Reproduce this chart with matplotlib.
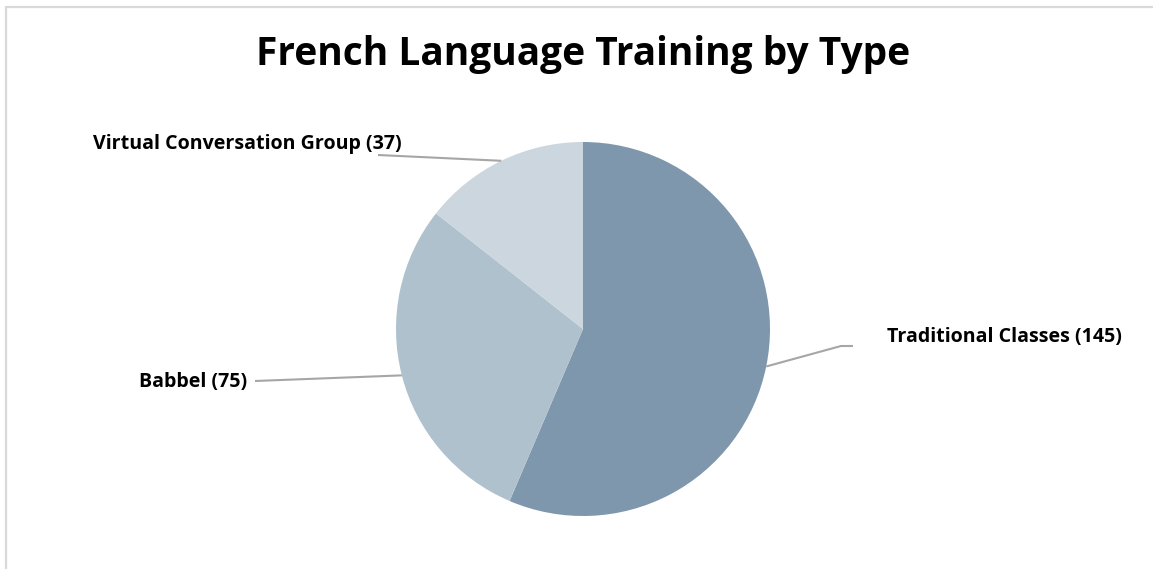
#!/usr/bin/env python3
import numpy as np
import matplotlib
matplotlib.use('Agg')
import matplotlib.pyplot as plt

## data
types   = ['Traditional Classes', 'Babbel', 'Virtual Conversation Group']
counts  = [145, 75, 37]
colors  = ['#7F97AD', '#B0C1CE', '#CBD6DF']
title   = 'French Language Training by Type'

plt.rcParams['font.family'] = ['Open Sans', 'DejaVu Sans']

W, H = 1153, 569
fig = plt.figure(figsize=(W/100, H/100), dpi=100)
ax = fig.add_axes([0, 0, 1, 1])

## pie in pixel-like data coords (y up)
cx, cy, r = 583, H - 329, 187
wedges, _ = ax.pie(counts, colors=colors, startangle=90, counterclock=False,
                   center=(cx, cy), radius=r, frame=True,
                   wedgeprops=dict(linewidth=0))
ax.set_xlim(0, W)
ax.set_ylim(0, H)
ax.set_aspect('auto')
ax.axis('off')

## frame border (top and left only visible)
ax.plot([6, 6, W], [0, H - 6.5, H - 6.5], color='#D9D9D9', lw=1.6,
        solid_joinstyle='miter')

ax.text(cx, H - 54, title, ha='center', va='center',
        fontsize=28, fontweight='bold', color='black')

## labels with leader lines from wedge mid-angles
# (elbow point, line end, text anchor, ha)
layout = {
    'Traditional Classes':        ((841, H - 346), (853, H - 346), (887, H - 337), 'left'),
    'Babbel':                     ((400, H - 376), (255, H - 381), (247, H - 382), 'right'),
    'Virtual Conversation Group': ((490, H - 161), (378, H - 155), (402, H - 144), 'right'),
}
for w, name, n in zip(wedges, types, counts):
    mid = np.deg2rad((w.theta1 + w.theta2) / 2)
    x0, y0 = cx + r * np.cos(mid), cy + r * np.sin(mid)
    elbow, end, tpos, ha = layout[name]
    if name == 'Traditional Classes':
        xs, ys = [x0, elbow[0], end[0]], [y0, elbow[1], end[1]]
    else:
        xs, ys = [x0, end[0]], [y0, end[1]]
    ax.plot(xs, ys, color='#A6A6A6', lw=1.5, solid_capstyle='butt')
    ax.text(tpos[0], tpos[1], '%s (%d)' % (name, n), ha=ha, va='center',
            fontsize=14.1, fontweight='bold', color='black')

fig.savefig('out.png', dpi=100)
